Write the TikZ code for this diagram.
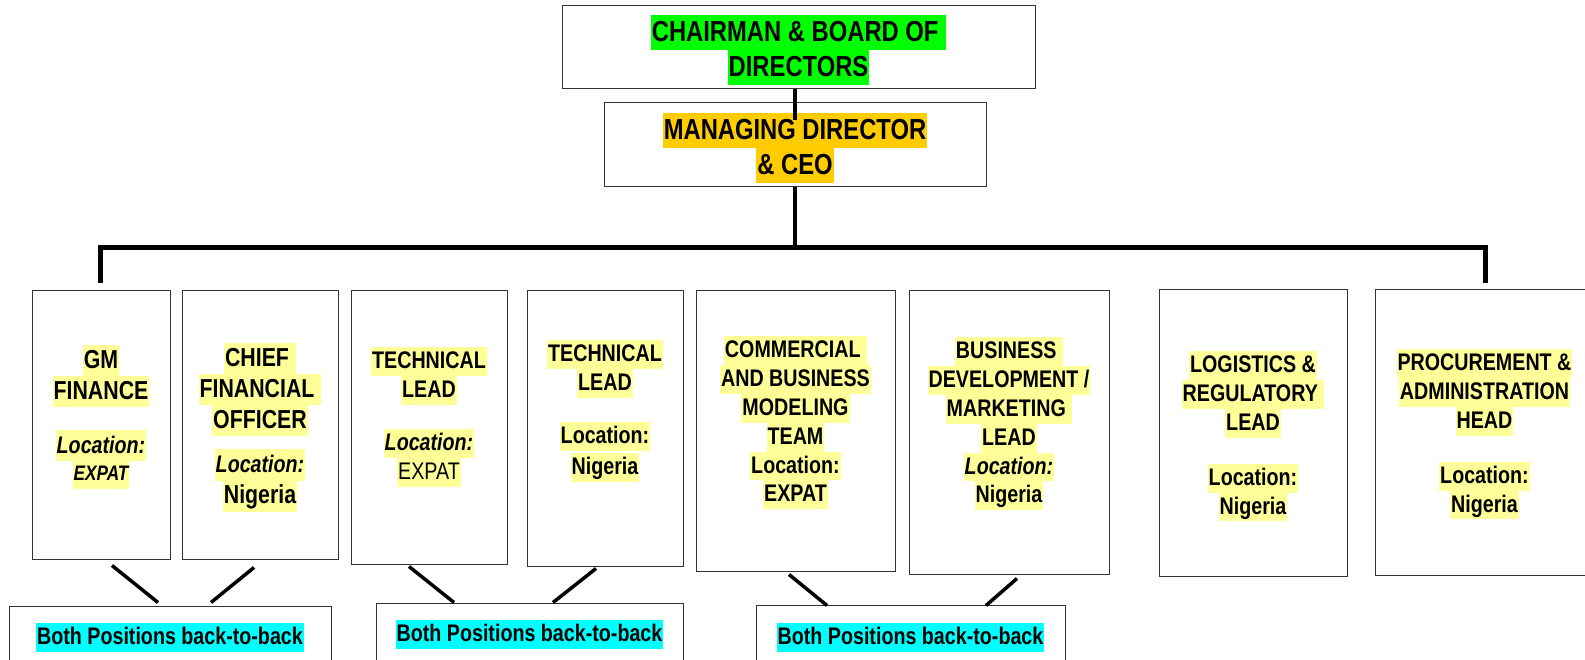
\documentclass[tikz,border=0pt]{standalone}
\usepackage{fontspec}
\setmainfont{Liberation Sans}[FakeStretch=0.82]
\usetikzlibrary{positioning}
\definecolor{hlyel}{HTML}{FFFF99}
\definecolor{hlgreen}{HTML}{00FF00}
\definecolor{hlorange}{HTML}{FFCC00}
\definecolor{hlcyan}{HTML}{00FFFF}
\setlength{\fboxsep}{0pt}
\newcommand\hl[2]{\colorbox{#1}{\hspace{1pt}\rule[-.3em]{0pt}{1.2em}#2\hspace{1pt}}}
\newcommand\hy[1]{\hl{hlyel}{#1}}
\newcommand\sm{\fontsize{24}{28.8}\selectfont}

\begin{document}
\begin{tikzpicture}[x=1pt,y=-1pt,
  post/.style={draw=black!80,line width=1pt,inner sep=0pt},
  txt/.style={inner sep=0pt,align=center,font=\bfseries\fontsize{24}{28.8}\selectfont},
  bigtxt/.style={txt,font=\bfseries\fontsize{26}{31.2}\selectfont},
  headtxt/.style={txt,font=\bfseries\fontsize{29}{34.8}\selectfont},
  bus/.style={line width=5pt},
  link/.style={line width=3.5pt}]
\clip (0,0) rectangle (1585,660);

\node[post,minimum width=473pt,minimum height=83pt] (chair) at (798.5,47.5) {};
\node[headtxt,below=9.6pt of chair.north] (chair-t) {\hl{hlgreen}{CHAIRMAN \& BOARD OF\ }\\\hl{hlgreen}{DIRECTORS}};
\node[post,minimum width=382pt,minimum height=84pt] (md) at (795,145) {};
\node[headtxt,below=10.6pt of md.north] (md-t) {\hl{hlorange}{MANAGING DIRECTOR}\\\hl{hlorange}{\& CEO}};

\node[post,minimum width=138pt,minimum height=268pt] (gm) at (101,425) {};
\node[bigtxt,below=54pt of gm.north] (gm-t) {\hy{GM}\\\hy{FINANCE}\\[23pt]\hy{\sm\itshape Location:}\\[-4pt]\hy{\fontsize{21}{25}\selectfont\itshape EXPAT}};
\node[post,minimum width=156pt,minimum height=268pt] (cfo) at (260,425) {};
\node[bigtxt,below=52pt of cfo.north] (cfo-t) {\hy{CHIEF\ }\\\hy{FINANCIAL\ }\\\hy{OFFICER}\\[13pt]\hy{\sm\itshape Location:}\\\hy{Nigeria}};
\node[post,minimum width=156pt,minimum height=273pt] (tech1) at (429,427.5) {};
\node[txt,below=56.6pt of tech1.north] (tech1-t) {\hy{TECHNICAL}\\\hy{LEAD}\\[24pt]\hy{\itshape Location:}\\\hy{\mdseries EXPAT}};
\node[post,minimum width=156pt,minimum height=275pt] (tech2) at (605,428.5) {};
\node[txt,below=49.6pt of tech2.north] (tech2-t) {\hy{TECHNICAL}\\\hy{LEAD}\\[24pt]\hy{Location:}\\[2pt]\hy{Nigeria}};
\node[post,minimum width=199pt,minimum height=280pt] (comm) at (795.5,431) {};
\node[txt,below=45.6pt of comm.north] (comm-t) {\hy{COMMERCIAL\ }\\\hy{AND BUSINESS}\\\hy{MODELING}\\\hy{TEAM}\\\hy{Location:}\\\hy{EXPAT}};
\node[post,minimum width=200pt,minimum height=283pt] (bizdev) at (1009,432.5) {};
\node[txt,below=46.6pt of bizdev.north] (bizdev-t) {\hy{BUSINESS\ }\\\hy{DEVELOPMENT /}\\\hy{MARKETING\ }\\\hy{LEAD}\\\hy{\itshape Location:}\\\hy{Nigeria}};
\node[post,minimum width=188pt,minimum height=286pt] (logis) at (1253,433) {};
\node[txt,below=61.6pt of logis.north] (logis-t) {\hy{LOGISTICS \&}\\\hy{REGULATORY\ }\\\hy{LEAD}\\[26pt]\hy{Location:}\\\hy{Nigeria}};
\node[post,minimum width=219pt,minimum height=285pt] (proc) at (1484.5,432.5) {};
\node[txt,below=59.6pt of proc.north] (proc-t) {\hy{PROCUREMENT \&}\\\hy{ADMINISTRATION}\\\hy{HEAD}\\[26pt]\hy{Location:}\\\hy{Nigeria}};

\node[post,minimum width=322pt,minimum height=80pt] (both1) at (170,646) {};
\node[txt,below=17.6pt of both1.north] (both1-t) {\hl{hlcyan}{Both Positions back-to-back}};
\node[post,minimum width=307pt,minimum height=80pt] (both2) at (529.5,643) {};
\node[txt,below=17.6pt of both2.north] (both2-t) {\hl{hlcyan}{Both Positions back-to-back}};
\node[post,minimum width=309pt,minimum height=80pt] (both3) at (910.5,645) {};
\node[txt,below=18.6pt of both3.north] (both3-t) {\hl{hlcyan}{Both Positions back-to-back}};

\coordinate (busL) at (100,248);
\coordinate (busR) at (1485,248);
\coordinate (dropL) at (100,283);
\coordinate (dropR) at (1485,283);
\draw[link] (chair.south -| md.north) -- ++(0,31);
\draw[link] (md.south) -- (md.south |- busL);
\draw[bus] (dropL) -- (busL) -- (busR) -- (dropR);

\draw[link] ([shift={(11,6)}]gm.south) -- ([shift={(-12,-3)}]both1.north);
\draw[link] ([shift={(-6,8)}]cfo.south) -- ([shift={(41,-3)}]both1.north);
\draw[link] ([shift={(-20,2)}]tech1.south) -- ([shift={(-75.5,0)}]both2.north);
\draw[link] ([shift={(-9,2)}]tech2.south) -- ([shift={(23.5,0)}]both2.north);
\draw[link] ([shift={(-6.5,3)}]comm.south) -- ([shift={(-83.5,1)}]both3.north);
\draw[link] ([shift={(8,4)}]bizdev.south) -- ([shift={(75.5,1)}]both3.north);
\end{tikzpicture}
\end{document}
